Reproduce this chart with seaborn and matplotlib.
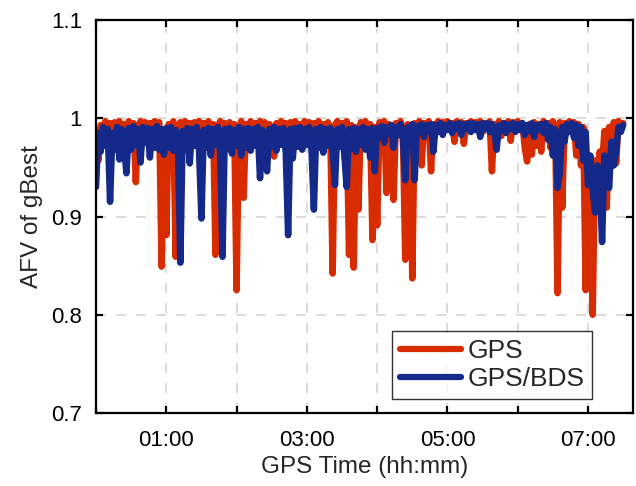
import numpy as np
import pandas as pd
import matplotlib
matplotlib.use("Agg")
import matplotlib.pyplot as plt
from matplotlib.ticker import FixedLocator, FixedFormatter
import seaborn as sns

# AFV of gBest sampled every 2 minutes, grouped by hour of GPS time
gps_h0 = [0.988, 0.957, 0.993, 0.989, 0.997, 0.990, 0.995, 0.987, 0.996, 0.991,
          0.997, 0.965, 0.994, 0.989, 0.997, 0.978, 0.995, 0.935, 0.991, 0.997,
          0.990, 0.996, 0.975, 0.995, 0.989, 0.997, 0.991, 0.996, 0.849, 0.978]
gps_h1 = [0.881, 0.994, 0.989, 0.997, 0.859, 0.991, 0.996, 0.988, 0.997, 0.991,
          0.995, 0.980, 0.996, 0.990, 0.997, 0.989, 0.995, 0.991, 0.997, 0.987,
          0.994, 0.861, 0.991, 0.997, 0.990, 0.995, 0.982, 0.996, 0.990, 0.994]
gps_h2 = [0.825, 0.991, 0.997, 0.919, 0.994, 0.989, 0.997, 0.991, 0.995, 0.988,
          0.997, 0.990, 0.996, 0.987, 0.994, 0.991, 0.961, 0.995, 0.990, 0.997,
          0.989, 0.995, 0.977, 0.996, 0.990, 0.997, 0.989, 0.994, 0.991, 0.997]
gps_h3 = [0.990, 0.996, 0.986, 0.995, 0.991, 0.997, 0.989, 0.994, 0.980, 0.996,
          0.990, 0.842, 0.993, 0.997, 0.977, 0.995, 0.989, 0.997, 0.861, 0.993,
          0.848, 0.991, 0.907, 0.996, 0.988, 0.997, 0.970, 0.994, 0.876, 0.991]
gps_h4 = [0.891, 0.996, 0.989, 0.997, 0.924, 0.994, 0.990, 0.917, 0.995, 0.991,
          0.997, 0.984, 0.856, 0.994, 0.990, 0.837, 0.995, 0.991, 0.997, 0.952,
          0.995, 0.989, 0.997, 0.946, 0.994, 0.991, 0.997, 0.988, 0.996, 0.992]
gps_h5 = [0.997, 0.990, 0.995, 0.976, 0.997, 0.991, 0.996, 0.974, 0.995, 0.990,
          0.997, 0.989, 0.996, 0.992, 0.997, 0.986, 0.995, 0.991, 0.997, 0.946,
          0.994, 0.990, 0.997, 0.982, 0.995, 0.991, 0.997, 0.977, 0.996, 0.990]
gps_h6 = [0.997, 0.988, 0.995, 0.970, 0.956, 0.994, 0.963, 0.996, 0.972, 0.994,
          0.966, 0.997, 0.990, 0.995, 0.970, 0.997, 0.991, 0.822, 0.996, 0.909,
          0.995, 0.990, 0.997, 0.987, 0.996, 0.962, 0.994, 0.952, 0.991, 0.825]
gps_h7 = [0.962, 0.948, 0.800, 0.957, 0.943, 0.966, 0.952, 0.987, 0.909, 0.991,
          0.962, 0.996, 0.954, 0.997, 0.994, 0.995]

bds_h0 = [0.930, 0.985, 0.966, 0.991, 0.972, 0.989, 0.915, 0.985, 0.968, 0.991,
          0.958, 0.989, 0.970, 0.944, 0.990, 0.968, 0.992, 0.973, 0.989, 0.955,
          0.991, 0.975, 0.990, 0.960, 0.989, 0.970, 0.992, 0.968, 0.989, 0.963]
bds_h1 = [0.990, 0.970, 0.991, 0.967, 0.988, 0.972, 0.853, 0.987, 0.968, 0.990,
          0.954, 0.989, 0.972, 0.991, 0.966, 0.898, 0.988, 0.970, 0.990, 0.962,
          0.989, 0.973, 0.991, 0.966, 0.859, 0.989, 0.969, 0.990, 0.964, 0.988]
bds_h2 = [0.972, 0.991, 0.962, 0.989, 0.970, 0.990, 0.967, 0.989, 0.972, 0.991,
          0.939, 0.988, 0.968, 0.946, 0.989, 0.971, 0.991, 0.967, 0.989, 0.973,
          0.990, 0.965, 0.881, 0.989, 0.959, 0.990, 0.971, 0.991, 0.968, 0.989]
bds_h3 = [0.973, 0.991, 0.967, 0.907, 0.989, 0.970, 0.991, 0.965, 0.989, 0.972,
          0.990, 0.968, 0.932, 0.989, 0.971, 0.991, 0.962, 0.930, 0.989, 0.969,
          0.990, 0.966, 0.989, 0.973, 0.991, 0.968, 0.989, 0.960, 0.990, 0.946]
bds_h4 = [0.990, 0.981, 0.992, 0.975, 0.991, 0.984, 0.993, 0.970, 0.991, 0.983,
          0.994, 0.978, 0.937, 0.991, 0.984, 0.994, 0.937, 0.992, 0.986, 0.994,
          0.981, 0.993, 0.987, 0.994, 0.966, 0.993, 0.986, 0.995, 0.983, 0.993]
bds_h5 = [0.988, 0.995, 0.985, 0.994, 0.989, 0.995, 0.983, 0.994, 0.989, 0.995,
          0.986, 0.995, 0.988, 0.994, 0.981, 0.995, 0.989, 0.995, 0.986, 0.994,
          0.989, 0.968, 0.993, 0.987, 0.995, 0.985, 0.994, 0.989, 0.995, 0.986]
bds_h6 = [0.994, 0.988, 0.995, 0.983, 0.993, 0.987, 0.995, 0.981, 0.993, 0.988,
          0.994, 0.985, 0.995, 0.978, 0.991, 0.962, 0.989, 0.929, 0.945, 0.991,
          0.976, 0.994, 0.986, 0.995, 0.980, 0.993, 0.972, 0.991, 0.957, 0.986]
bds_h7 = [0.932, 0.962, 0.927, 0.904, 0.952, 0.937, 0.874, 0.962, 0.947, 0.929,
          0.976, 0.952, 0.966, 0.991, 0.986, 0.993]

series_names = ["GPS", "GPS/BDS"]
series_colors = ["#D92B00", "#14298A"]
hour_ticks = [0, 1, 2, 3, 4, 5, 6, 7]
hour_labels = ["", "01:00", "", "03:00", "", "05:00", "", "07:00"]
y_ticks = [0.7, 0.8, 0.9, 1.0, 1.1]
y_labels = ["0.7", "0.8", "0.9", "1", "1.1"]

gps = np.concatenate([gps_h0, gps_h1, gps_h2, gps_h3, gps_h4, gps_h5, gps_h6, gps_h7])
bds = np.concatenate([bds_h0, bds_h1, bds_h2, bds_h3, bds_h4, bds_h5, bds_h6, bds_h7])
minutes = np.arange(len(gps)) * 2.0
hours = minutes / 60.0

df = pd.DataFrame({"t": np.concatenate([hours, hours]),
                   "afv": np.concatenate([gps, bds]),
                   "sys": [series_names[0]] * len(gps) + [series_names[1]] * len(bds)})

sns.set_theme(style="ticks")
plt.rcParams["font.family"] = ["Liberation Sans", "DejaVu Sans"]

fig = plt.figure(figsize=(6.36, 4.86), dpi=100)
ax = fig.add_axes([96 / 636, (486 - 413) / 486, (633 - 96) / 636, (413 - 20) / 486])

sns.lineplot(data=df, x="t", y="afv", hue="sys", hue_order=series_names,
             palette=series_colors, estimator=None, sort=False,
             linewidth=4.7, ax=ax, legend=True)
for ln in ax.get_lines():
    ln.set_solid_joinstyle("round")
    ln.set_solid_capstyle("round")

ax.set_xlim(0, 7.64)
ax.set_ylim(0.7, 1.1)
ax.xaxis.set_major_locator(FixedLocator(hour_ticks))
ax.xaxis.set_major_formatter(FixedFormatter(hour_labels))
ax.yaxis.set_major_locator(FixedLocator(y_ticks))
ax.yaxis.set_major_formatter(FixedFormatter(y_labels))

ax.grid(True, color="#d4d4d4", linestyle=(0, (6, 6)), linewidth=1.2)
ax.set_axisbelow(True)
for s in ax.spines.values():
    s.set_visible(True)
    s.set_color("black")
    s.set_linewidth(1.6)
ax.tick_params(direction="in", length=5, width=1.6, top=True, right=True,
               labelsize=16, colors="black")
ax.tick_params(axis="x", pad=12)
ax.tick_params(axis="y", pad=10)

ax.set_xlabel("GPS Time (hh:mm)", fontsize=17.5, labelpad=4)
ax.set_ylabel("AFV of gBest", fontsize=17.5, labelpad=6)

leg = ax.legend(loc="lower right", bbox_to_anchor=(0.924, 0.036), borderaxespad=0,
                fontsize=19, frameon=True, fancybox=False, edgecolor="black",
                handlelength=2.3, handletextpad=0.25, labelspacing=0.15,
                borderpad=0.3, title=None)
leg.get_frame().set_linewidth(1.0)
for h in leg.get_lines():
    h.set_linewidth(4.5)

fig.savefig("out.png", dpi=100)
